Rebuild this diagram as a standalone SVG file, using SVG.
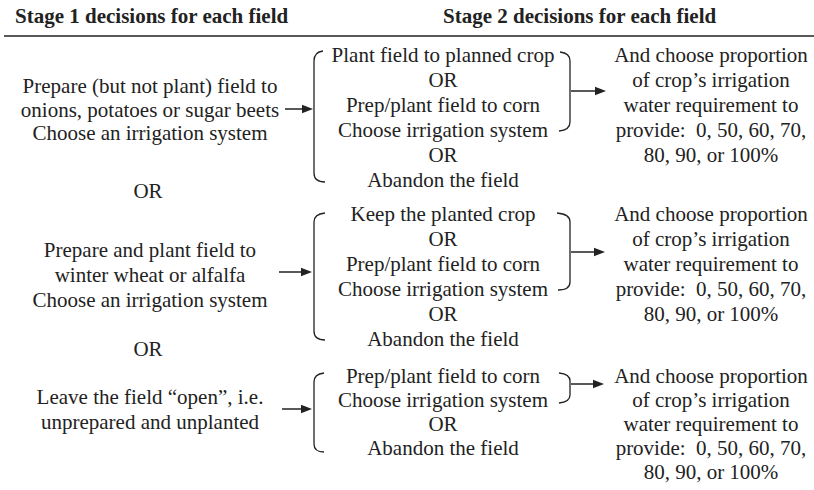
<svg xmlns="http://www.w3.org/2000/svg" width="814" height="490" viewBox="0 0 814 490">
<style>
text { font-family: "Liberation Serif", "Times New Roman", serif; font-size: 21px; fill: #222; }
.h { font-weight: bold; }
.c { text-anchor: middle; }
.br { fill: none; stroke: #222; stroke-width: 1.3; }
.ar { fill: none; stroke: #222; stroke-width: 1.5; marker-end: url(#ah); }
</style>
<defs>
<marker id="ah" markerUnits="userSpaceOnUse" markerWidth="12" markerHeight="10" refX="2" refY="5" orient="auto">
<path d="M0,0.8 L11,5 L0,9.2 z" fill="#222"/>
</marker>
</defs>
<rect width="814" height="490" fill="#fff"/>

<g id="header">
<text class="h" x="15" y="23">Stage 1 decisions for each field</text>
<text class="h" x="443" y="23">Stage 2 decisions for each field</text>
<line x1="4" y1="36" x2="814" y2="36" stroke="#222" stroke-width="1.6"/>
</g>

<g id="s1-a">
<text class="c" x="150" y="93">Prepare (but not plant) field to</text>
<text class="c" x="150" y="116.5">onions, potatoes or sugar beets</text>
<text class="c" x="150" y="140">Choose an irrigation system</text>
</g>
<g id="or-1"><text class="c" x="148" y="198">OR</text></g>
<g id="s1-b">
<text class="c" x="150" y="257">Prepare and plant field to</text>
<text class="c" x="150" y="282">winter wheat or alfalfa</text>
<text class="c" x="150" y="307">Choose an irrigation system</text>
</g>
<g id="or-2"><text class="c" x="148" y="356">OR</text></g>
<g id="s1-c">
<text class="c" x="150" y="404">Leave the field “open”, i.e.</text>
<text class="c" x="150" y="429">unprepared and unplanted</text>
</g>

<g id="s2-a">
<text class="c" x="443" y="62">Plant field to planned crop</text>
<text class="c" x="443" y="87">OR</text>
<text class="c" x="443" y="112">Prep/plant field to corn</text>
<text class="c" x="443" y="137">Choose irrigation system</text>
<text class="c" x="443" y="162">OR</text>
<text class="c" x="443" y="187">Abandon the field</text>
</g>
<g id="s2-b">
<text class="c" x="443" y="221">Keep the planted crop</text>
<text class="c" x="443" y="246">OR</text>
<text class="c" x="443" y="271">Prep/plant field to corn</text>
<text class="c" x="443" y="296">Choose irrigation system</text>
<text class="c" x="443" y="321">OR</text>
<text class="c" x="443" y="346">Abandon the field</text>
</g>
<g id="s2-c">
<text class="c" x="443" y="383">Prep/plant field to corn</text>
<text class="c" x="443" y="407">Choose irrigation system</text>
<text class="c" x="443" y="431">OR</text>
<text class="c" x="443" y="455">Abandon the field</text>
</g>

<g id="w-a">
<text class="c" x="711" y="62">And choose proportion</text>
<text class="c" x="711" y="87">of crop’s irrigation</text>
<text class="c" x="711" y="112">water requirement to</text>
<text class="c" x="711" y="137" xml:space="preserve">provide:  0, 50, 60, 70,</text>
<text class="c" x="711" y="162">80, 90, or 100%</text>
</g>
<g id="w-b">
<text class="c" x="711" y="221">And choose proportion</text>
<text class="c" x="711" y="246">of crop’s irrigation</text>
<text class="c" x="711" y="271">water requirement to</text>
<text class="c" x="711" y="296" xml:space="preserve">provide:  0, 50, 60, 70,</text>
<text class="c" x="711" y="321">80, 90, or 100%</text>
</g>
<g id="w-c">
<text class="c" x="711" y="383">And choose proportion</text>
<text class="c" x="711" y="407">of crop’s irrigation</text>
<text class="c" x="711" y="431">water requirement to</text>
<text class="c" x="711" y="455" xml:space="preserve">provide:  0, 50, 60, 70,</text>
<text class="c" x="711" y="479">80, 90, or 100%</text>
</g>

<g id="connectors">
<path class="br" d="M323 51 Q314 52 314 61 L314 173 Q314 182 325 182"/>
<path class="br" d="M560 52 Q570 53 570 61 L570 122 Q570 130 559 131"/>
<path class="br" d="M325 213 Q314 214 314 222 L314 331 Q314 340 325 340"/>
<path class="br" d="M557 213 Q570 214 570 222 L570 282 Q570 290 558 290"/>
<path class="br" d="M324 373 Q314 374 314 382 L314 444 Q314 452 324 452"/>
<path class="br" d="M559 373 Q570 374 570 381 L570 395 Q570 402 559 403"/>
<line class="ar" x1="285" y1="109" x2="304" y2="109"/>
<line class="ar" x1="571" y1="91" x2="597" y2="91"/>
<line class="ar" x1="279" y1="272" x2="303" y2="272"/>
<line class="ar" x1="571" y1="252" x2="596" y2="252"/>
<line class="ar" x1="282" y1="409" x2="303" y2="409"/>
<line class="ar" x1="571" y1="384" x2="595" y2="384"/>
</g>
</svg>
